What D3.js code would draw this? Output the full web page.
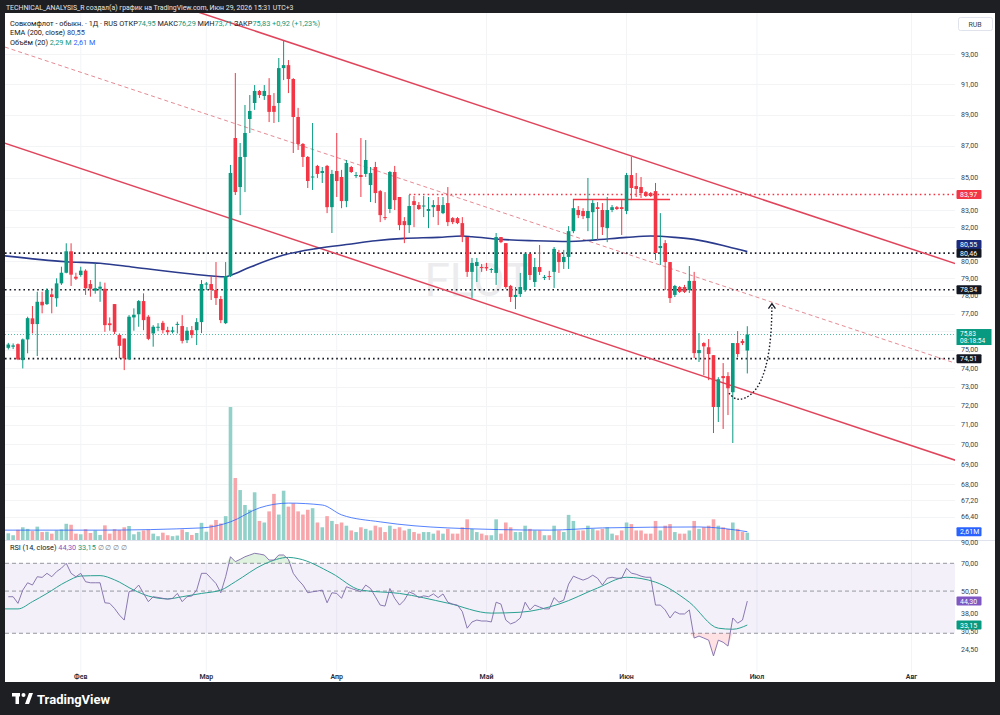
<!DOCTYPE html>
<meta charset="utf-8">
<head><title>FLOT 1D</title>
<style>
body { margin: 0; background: #1e1f22; }
svg text { font-family: Roboto, "Liberation Sans", sans-serif; }
</style>
</head>
<body>
<svg width="1000" height="715"></svg>
<script src="https://d3js.org/d3.v7.min.js"></script>
<script>

// daily candles, bar index 0..153 (last bar = Jun 29)
var opens = [75.10,75.16,75.30,74.43,75.56,76.73,76.41,77.66,77.53,78.08,77.86,78.71,79.32,80.57,79.09,79.19,79.44,78.67,78.29,78.40,
  78.40,76.45,77.53,75.81,75.61,74.47,76.78,76.96,77.70,76.82,75.89,76.23,76.48,76.07,75.98,76.39,76.30,75.52,76.07,76.07,
  76.52,78.64,78.67,78.33,77.82,76.46,79.13,87.50,84.43,86.30,88.72,89.76,90.55,90.22,90.28,89.57,89.76,92.07,92.27,91.34,
  88.85,87.12,86.30,85.02,85.74,85.30,85.74,83.20,85.42,85.05,83.57,85.67,85.11,85.17,85.24,84.55,85.67,84.18,82.60,83.09,
  85.36,83.82,82.36,82.12,83.57,83.33,83.24,82.97,83.20,83.33,82.84,83.45,82.54,82.54,82.24,81.41,79.37,79.71,79.65,79.65,
  79.51,79.31,81.41,81.05,78.56,77.93,78.10,78.33,80.41,78.79,79.65,79.02,79.13,79.37,80.47,79.94,80.24,81.76,83.03,82.97,
  82.54,82.90,83.20,83.03,81.94,83.03,83.20,83.20,82.97,85.17,84.49,84.43,84.12,84.06,84.18,80.76,81.05,79.94,78.05,78.50,
  78.50,78.33,78.85,74.81,75.36,75.13,74.70,71.93,73.57,73.57,72.71,75.36,75.47,74.95];
var highs = [75.37,75.34,75.34,75.61,76.82,77.42,78.23,78.23,78.43,78.43,79.00,79.67,81.04,81.04,79.32,79.67,79.52,78.90,79.87,78.80,
  78.75,76.78,77.53,75.89,75.61,76.91,77.29,77.76,78.14,76.91,76.35,76.46,76.59,76.26,76.26,76.54,76.91,76.24,76.30,76.74,
  78.90,78.79,79.13,79.94,77.99,79.94,85.80,91.74,87.18,89.63,90.28,90.94,90.61,90.94,91.40,90.41,92.75,93.90,92.61,91.40,
  89.44,87.18,86.36,88.46,85.80,85.67,85.80,85.49,87.82,85.49,86.11,85.74,85.36,87.50,87.37,85.67,85.99,84.25,84.12,85.42,
  85.74,83.82,82.60,83.94,83.88,83.51,83.88,83.82,83.63,83.82,83.82,84.43,82.60,82.60,82.60,81.41,80.18,80.18,79.83,79.89,
  79.60,81.65,81.41,81.05,78.62,78.50,79.31,80.47,80.47,80.18,80.94,79.19,79.43,80.82,80.65,80.65,82.06,83.69,83.27,83.14,
  84.99,83.63,83.51,83.45,83.82,83.33,83.27,83.63,85.30,86.30,85.30,85.05,84.18,84.12,84.68,82.84,81.23,79.94,78.62,78.56,
  78.62,79.71,79.37,75.91,75.41,75.58,74.70,73.51,74.27,73.78,75.36,76.02,75.58,76.29];
var lows = [75.01,75.03,74.43,73.98,74.80,75.89,74.65,77.01,77.48,77.01,77.38,78.62,79.29,78.56,78.90,79.09,78.05,77.95,78.12,77.66,
  75.98,76.04,75.85,74.52,73.89,74.43,76.04,76.26,76.07,75.52,75.16,76.02,75.89,75.80,75.89,75.89,75.34,75.36,75.63,75.25,
  75.91,78.33,77.76,77.48,76.46,76.41,79.07,83.94,82.72,84.12,87.82,89.31,90.09,89.96,88.52,88.46,88.52,91.27,90.41,86.55,
  86.74,85.67,84.37,84.25,84.99,84.68,82.84,81.65,83.82,83.14,83.20,85.30,84.99,83.82,85.05,83.51,83.45,82.30,82.42,82.84,
  83.03,81.82,81.05,81.65,82.00,83.03,82.60,81.94,82.60,82.12,82.78,82.06,82.18,82.18,81.11,79.08,77.87,78.79,79.37,79.43,
  79.31,78.62,81.05,78.40,77.65,77.25,77.93,78.22,78.90,78.50,79.19,78.90,78.90,78.45,79.31,79.54,79.54,81.64,82.54,82.48,
  81.76,81.23,81.23,81.53,81.11,82.90,83.03,81.53,82.78,83.63,83.82,83.76,83.82,83.82,80.06,79.77,78.33,77.59,77.93,78.16,
  78.16,78.16,74.54,74.33,73.62,73.35,70.58,71.15,70.79,71.51,70.07,74.60,75.25,73.71];
var closes = [75.28,75.23,74.47,75.56,76.74,76.41,77.66,77.46,78.33,77.93,78.71,79.32,80.57,79.21,78.98,79.44,78.43,78.40,78.43,78.52,
  76.35,76.35,75.98,75.21,74.52,76.82,76.93,77.70,76.63,75.59,76.26,76.26,76.07,75.96,76.06,76.42,75.48,76.04,75.80,76.52,
  78.67,78.70,78.33,77.87,76.63,79.13,85.30,84.12,86.30,87.82,89.24,90.55,90.28,90.55,89.18,89.18,92.07,92.27,91.34,88.85,
  87.12,86.30,84.80,85.08,85.24,85.42,83.20,85.24,84.80,83.57,85.92,85.36,85.17,85.05,86.11,85.30,84.06,82.72,82.54,85.36,
  83.63,82.12,82.12,83.27,83.33,83.09,83.30,83.09,83.33,82.97,83.33,82.30,82.30,82.24,81.41,79.37,79.89,79.94,79.60,79.57,
  79.54,81.41,81.11,78.50,77.93,78.05,78.50,80.41,79.19,79.65,79.37,79.08,79.08,80.71,79.94,80.24,81.76,83.14,82.72,82.66,
  82.97,83.45,83.09,82.00,83.03,83.20,83.09,83.09,85.17,84.37,84.31,84.06,83.88,83.88,80.47,80.88,79.94,77.87,78.56,78.22,
  78.22,78.85,74.81,74.98,75.18,74.76,71.93,73.40,73.46,72.92,75.36,74.76,75.36,75.83];

// volume, millions
var volumes = [2.1,1.5,3.2,4.0,3.5,2.8,4.2,2.5,2.6,2.0,3.0,3.3,5.1,4.8,2.0,1.8,3.4,2.2,3.0,1.6,
  4.6,2.0,3.4,3.1,4.0,4.4,1.8,2.6,3.0,3.2,2.0,1.2,2.3,1.5,1.2,1.4,3.3,2.5,1.6,2.2,
  5.4,2.6,4.8,6.3,5.2,7.5,41.8,19.5,15.7,11.0,9.5,15.0,6.0,5.5,9.0,14.5,8.0,15.5,10.5,11.5,
  9.0,8.0,9.5,10.0,5.5,4.0,7.5,6.0,5.0,5.5,4.5,3.0,2.5,4.0,3.5,3.0,4.5,4.0,2.5,4.5,
  3.5,4.0,3.0,3.5,2.5,2.0,2.5,2.5,2.0,3.0,2.0,3.5,2.0,2.0,4.0,6.5,3.5,2.5,2.0,1.5,
  1.5,6.5,2.0,5.5,4.0,2.5,2.5,4.5,3.5,3.0,3.0,1.5,1.5,4.5,3.0,2.5,7.9,6.0,3.0,3.0,
  4.5,3.5,3.0,3.5,4.0,2.0,1.5,3.0,5.5,5.0,3.0,3.0,2.0,2.0,6.0,3.0,4.5,5.0,2.5,2.0,
  2.0,3.0,6.0,3.5,4.0,4.5,6.5,4.5,4.0,3.5,5.5,3.5,2.5,2.29];

// RSI(14) per bar
var rsi = [46.7,46.7,43.1,50.6,55.3,53.8,59.5,59.0,62.0,59.5,63.3,66.0,70.0,62.0,59.5,62.0,56.0,55.3,55.3,55.3,
  43.4,43.1,40.5,37.4,35.2,49.6,50.6,53.8,48.6,44.0,46.7,46.3,45.8,45.3,45.8,48.6,44.0,46.7,47.1,50.6,
  62.0,62.0,58.3,54.8,49.0,59.5,75.8,71.4,73.4,75.8,77.4,79.0,78.3,77.4,72.8,72.8,77.4,77.4,73.4,62.0,
  57.3,53.8,49.0,49.6,50.0,50.6,43.4,49.0,48.6,45.8,52.7,51.6,50.6,49.6,53.8,51.6,46.7,42.2,41.7,51.6,
  45.8,42.2,44.8,49.5,48.3,46.2,47.2,46.7,48.3,46.2,48.3,43.7,42.7,42.2,39.0,31.9,34.4,35.2,34.8,34.8,
  34.4,43.7,42.7,35.2,33.6,34.4,36.1,43.7,39.8,42.2,41.2,40.3,40.3,46.2,43.7,44.8,54.4,59.9,58.4,57.1,
  58.4,60.6,58.4,53.8,58.4,59.1,58.4,58.4,65.9,62.1,61.3,59.9,59.1,59.1,42.2,42.2,39.8,36.1,39.0,37.9,
  37.9,39.8,28.3,29.0,28.3,27.6,22.8,27.6,26.9,25.7,36.1,33.9,35.2,44.30];

// smooth lines read at selected bars
var emaIdx = [-0.7,12,19,26,38,45,46,50,57,64,71,76,82,89,94,96,102,109,116,121,128,133,138,142,149,153];
var emaVal = [80.30,79.96,79.87,79.64,79.25,79.09,79.17,79.64,80.35,80.74,81.00,81.19,81.33,81.39,81.47,81.43,81.27,81.19,81.15,81.23,81.39,81.47,81.39,81.27,80.84,80.55];
var volMaIdx = [-0.7,19,40,46,52,58,65,69,77,91,112,123,143,153];
var volMaVal = [3.1,3.1,3.8,5.7,10.1,11.6,11.0,7.9,5.7,3.8,3.1,3.8,4.1,2.61];
var rsiMaIdx = [-0.7,2,5,8,12,15,19,22,26,29,33,36,40,44,47,53,58,60,67,73,81,91,100,106,114,122,128,134,141,147,150,153];
var rsiMaVal = [40.3,40.3,44.0,48.6,56.0,60.0,60.3,57.3,50.6,47.1,45.5,46.7,48.6,50.6,56.0,69.4,75.2,74.1,62.0,50.6,48.6,43.2,38.3,38.7,42.7,51.9,59.1,55.7,43.7,31.9,31.5,33.15];

// axis ticks (76,00 sits under the last-price badge)
var priceTicks = [93,91,89,87,85,83,82,80,79,78,77,75,74,73,72,71,70,69,68,67.2,66.4];
var gridTicks = [93,91,89,87,85,83,82,80,79,78,77,76,75,74,73,72,71,70,69,68,67.2,66.4];
var rsiTicks = [90,70,50,38,30.5,24.5];
var monthLabels = ["Фев","Мар","Апр","Май","Июн","Июл","Авг"];
var monthIdx = [15,41,68,99,128,155,187];

// drawings: [bar index, price]
var upperChannel = [[57,93.94],[196,79.86]];
var lowerChannel = [[-0.68,87.17],[196,69.2]];
var midChannel = [[-0.68,93.49],[196,74.27]];
var blackLevels = [80.46,78.34,74.51];
var redLevel = 83.97, redLevelFrom = 83;
var redSegment = [[116.9,83.67],[137,83.67]];
var arrowPts = [[149.2,72.66],[150.5,72.3],[152.5,72.35],[155,72.8],[157,74.0],[158,75.8],[158.1,77.5]];

var svg = d3.select("svg");
var plotL = 5, plotR = 955, priceT = 13, priceB = 540, rsiT = 541, rsiB = 672;

var x = d3.scaleLinear().domain([0, 153]).range([8.3, 747.3]);
var y = d3.scaleLog().domain([65.29, 95.84]).range([priceB, priceT]);
var yVol = d3.scaleLinear().domain([0, 42]).range([priceB, priceB - 133.6]);
var yRsi = d3.scaleLog().domain([18.1, 91.7]).range([675, 541]);
var fmt = function(v) { return d3.format(".2f")(v).replace(".", ","); };

var green = "#089981", red = "#f23645";

//frame
svg.append("rect").attr("width", 1000).attr("height", 715).attr("fill", "#1e1f22");
svg.append("rect").attr("x", 5).attr("y", 13).attr("width", 990).attr("height", 669).attr("fill", "#ffffff");

svg.append("text").attr("x", 6).attr("y", 10).attr("fill", "#e6e6e6").style("font-size", "6.9px")
  .text("TECHNICAL_ANALYSIS_R создал(а) график на TradingView.com, Июн 29, 2026 15:31 UTC+3");

var defs = svg.append("defs");
defs.append("clipPath").attr("id", "pclip").append("rect")
  .attr("x", plotL).attr("y", priceT).attr("width", plotR - plotL).attr("height", priceB - priceT);
defs.append("clipPath").attr("id", "rclip").append("rect")
  .attr("x", plotL).attr("y", rsiT).attr("width", plotR - plotL).attr("height", rsiB - rsiT);

//grid
var grid = svg.append("g");
grid.selectAll("line.h").data(gridTicks).enter().append("line")
  .attr("x1", plotL).attr("x2", plotR).attr("y1", function(d) { return Math.round(y(d)) + 0.5; })
  .attr("y2", function(d) { return Math.round(y(d)) + 0.5; }).attr("stroke", "#f3f4f6");
grid.selectAll("line.v").data(monthIdx).enter().append("line")
  .attr("x1", function(d) { return x(d); }).attr("x2", function(d) { return x(d); })
  .attr("y1", priceT).attr("y2", rsiB).attr("stroke", "#f3f4f6");

svg.append("text").attr("x", 478).attr("y", 296).attr("text-anchor", "middle")
  .attr("fill", "#ececee").style("font-size", "46px").text("FLOT");

var pane = svg.append("g").attr("clip-path", "url(#pclip)");

//volume
pane.append("g").selectAll("rect").data(volumes).enter().append("rect")
  .attr("x", function(d, i) { return x(i) - 1.8; })
  .attr("width", 3.6)
  .attr("y", function(d) { return yVol(d); })
  .attr("height", function(d) { return priceB - yVol(d); })
  .attr("fill", function(d, i) { return closes[i] >= opens[i] ? "#92d1c9" : "#f7a7ab"; });

pane.append("path").datum(volMaIdx)
  .attr("d", d3.line().x(function(d) { return x(d); }).y(function(d, k) { return yVol(volMaVal[k]); }).curve(d3.curveMonotoneX))
  .attr("fill", "none").attr("stroke", "#2962ff").attr("stroke-width", 0.8);

//levels
blackLevels.forEach(function(v) {
  pane.append("line").attr("x1", plotL).attr("x2", plotR).attr("y1", y(v)).attr("y2", y(v))
    .attr("stroke", "#131722").attr("stroke-width", 1.6).attr("stroke-dasharray", "1.6 3");
});
pane.append("line").attr("x1", x(redLevelFrom)).attr("x2", plotR).attr("y1", y(redLevel)).attr("y2", y(redLevel))
  .attr("stroke", red).attr("stroke-width", 1.6).attr("stroke-dasharray", "1.6 3");
pane.append("line").attr("x1", plotL).attr("x2", plotR).attr("y1", y(closes[153])).attr("y2", y(closes[153]))
  .attr("stroke", green).attr("stroke-width", 0.7).attr("stroke-dasharray", "1 2");

//channel lines, extended across the pane
function extLine(pts) {
  var x1 = x(pts[0][0]), y1 = y(pts[0][1]), x2 = x(pts[1][0]), y2 = y(pts[1][1]);
  var k = (y2 - y1) / (x2 - x1);
  return [[plotL - 20, y1 + k * (plotL - 20 - x1)], [plotR + 20, y1 + k * (plotR + 20 - x1)]];
}
[upperChannel, lowerChannel].forEach(function(c) {
  var e = extLine(c);
  pane.append("line").attr("x1", e[0][0]).attr("y1", e[0][1]).attr("x2", e[1][0]).attr("y2", e[1][1])
    .attr("stroke", "#e0455c").attr("stroke-width", 1.5);
});
var m = extLine(midChannel);
pane.append("line").attr("x1", m[0][0]).attr("y1", m[0][1]).attr("x2", m[1][0]).attr("y2", m[1][1])
  .attr("stroke", "#e58b95").attr("stroke-width", 1).attr("stroke-dasharray", "4 3");

pane.append("line").attr("x1", x(redSegment[0][0])).attr("x2", x(redSegment[1][0]))
  .attr("y1", y(redSegment[0][1])).attr("y2", y(redSegment[1][1]))
  .attr("stroke", red).attr("stroke-width", 1.5);

//ema 200
pane.append("path").datum(emaIdx)
  .attr("d", d3.line().x(function(d) { return x(d); }).y(function(d, k) { return y(emaVal[k]); }).curve(d3.curveMonotoneX))
  .attr("fill", "none").attr("stroke", "#2a3a8c").attr("stroke-width", 1.6);

//candles
var candles = pane.append("g").selectAll("g").data(closes).enter().append("g");
candles.append("line")
  .attr("x1", function(d, i) { return x(i); }).attr("x2", function(d, i) { return x(i); })
  .attr("y1", function(d, i) { return y(highs[i]); }).attr("y2", function(d, i) { return y(lows[i]); })
  .attr("stroke", function(d, i) { return d >= opens[i] ? green : red; }).attr("stroke-width", 1);
candles.append("rect")
  .attr("x", function(d, i) { return x(i) - 1.8; }).attr("width", 3.6)
  .attr("y", function(d, i) { return y(Math.max(d, opens[i])); })
  .attr("height", function(d, i) { return Math.max(1, Math.abs(y(d) - y(opens[i]))); })
  .attr("fill", function(d, i) { return d >= opens[i] ? green : red; });

//arrow
pane.append("path").datum(arrowPts)
  .attr("d", d3.line().x(function(d) { return x(d[0]); }).y(function(d) { return y(d[1]); }).curve(d3.curveBasis))
  .attr("fill", "none").attr("stroke", "#131722").attr("stroke-width", 1.4).attr("stroke-dasharray", "1.5 2");
var tip = arrowPts[arrowPts.length - 1];
pane.append("path")
  .attr("d", "M" + (x(tip[0]) - 3.5) + "," + (y(tip[1]) + 4) + "L" + x(tip[0]) + "," + (y(tip[1]) - 1) + "L" + (x(tip[0]) + 3.5) + "," + (y(tip[1]) + 4))
  .attr("fill", "none").attr("stroke", "#131722").attr("stroke-width", 1.3);

//pane separator
svg.append("line").attr("x1", 5).attr("x2", 995).attr("y1", 540.5).attr("y2", 540.5).attr("stroke", "#e0e3eb");

//rsi pane
var rp = svg.append("g").attr("clip-path", "url(#rclip)");
rp.append("rect").attr("x", plotL).attr("width", plotR - plotL)
  .attr("y", yRsi(70)).attr("height", yRsi(30) - yRsi(70)).attr("fill", "#7e57c2").attr("fill-opacity", 0.09);
[70, 50, 30].forEach(function(v) {
  rp.append("line").attr("x1", plotL).attr("x2", plotR).attr("y1", yRsi(v)).attr("y2", yRsi(v))
    .attr("stroke", "#9598a1").attr("stroke-dasharray", "4 3");
});
rp.append("path").datum(rsi)
  .attr("d", d3.area().x(function(d, i) { return x(i); }).y0(yRsi(70)).y1(function(d) { return Math.min(yRsi(d), yRsi(70)); }))
  .attr("fill", "#4caf50").attr("fill-opacity", 0.18);
rp.append("path").datum(rsi)
  .attr("d", d3.area().x(function(d, i) { return x(i); }).y0(yRsi(30)).y1(function(d) { return Math.max(yRsi(d), yRsi(30)); }))
  .attr("fill", "#f23645").attr("fill-opacity", 0.15);
rp.append("path").datum(rsiMaIdx)
  .attr("d", d3.line().x(function(d) { return x(d); }).y(function(d, k) { return yRsi(rsiMaVal[k]); }).curve(d3.curveMonotoneX))
  .attr("fill", "none").attr("stroke", "#2aa192").attr("stroke-width", 1);
rp.append("path").datum(rsi)
  .attr("d", d3.line().x(function(d, i) { return x(i); }).y(function(d) { return yRsi(d); }))
  .attr("fill", "none").attr("stroke", "#7e6ba8").attr("stroke-width", 0.9);

//price axis
var ax = svg.append("g").style("font-size", "7px").attr("fill", "#3b3f4a");
ax.selectAll("text.p").data(priceTicks).enter().append("text")
  .attr("x", 961).attr("y", function(d) { return y(d) + 2.5; }).text(fmt);
ax.selectAll("text.r").data(rsiTicks).enter().append("text")
  .attr("x", 961).attr("y", function(d) { return yRsi(d) + 2.5; }).text(fmt);

var rub = svg.append("g");
rub.append("rect").attr("x", 958.5).attr("y", 17.5).attr("width", 34).attr("height", 13).attr("rx", 2)
  .attr("fill", "#fff").attr("stroke", "#e0e3eb");
rub.append("text").attr("x", 975).attr("y", 26.5).attr("text-anchor", "middle").style("font-size", "7px")
  .attr("fill", "#3b3f4a").text("RUB");

//value badges
function badge(yc, txt, col, w) {
  svg.append("rect").attr("x", 956.5).attr("y", yc - 4.5).attr("width", w || 25).attr("height", 9)
    .attr("fill", col).attr("rx", 1);
  svg.append("text").attr("x", 960).attr("y", yc + 2.5).style("font-size", "7px").attr("fill", "#fff").text(txt);
}
badge(y(redLevel), fmt(redLevel), red);
badge(y(emaVal[emaVal.length - 1]) - 7, fmt(emaVal[emaVal.length - 1]), "#1d2b7e");
badge(y(80.46), fmt(80.46), "#131722");
badge(y(78.34), fmt(78.34), "#131722");
badge(y(74.51), fmt(74.51), "#131722");
svg.append("rect").attr("x", 956.5).attr("y", y(closes[153]) - 5.5).attr("width", 35).attr("height", 16).attr("fill", green);
svg.append("text").attr("x", 960).attr("y", y(closes[153]) + 1.5).style("font-size", "6.5px").attr("fill", "#fff").text(fmt(closes[153]));
svg.append("text").attr("x", 960).attr("y", y(closes[153]) + 8.5).style("font-size", "6.5px").attr("fill", "#fff").text("08:18:54");
badge(yVol(volMaVal[volMaVal.length - 1]), "2,61M", "#2962ff");
badge(yRsi(rsi[153]), fmt(rsi[153]), "#7e57c2");
badge(yRsi(rsiMaVal[rsiMaVal.length - 1]), fmt(rsiMaVal[rsiMaVal.length - 1]), "#089981");

//time axis
svg.append("g").selectAll("text").data(monthLabels).enter().append("text")
  .attr("x", function(d, i) { return x(monthIdx[i]); }).attr("y", 678.5)
  .attr("text-anchor", "middle").style("font-size", "7px").style("font-weight", "600").attr("fill", "#2a2e39")
  .text(function(d) { return d; });

//legends
var lg = svg.append("g").style("font-size", "7.3px").attr("fill", "#131722");
var l1 = lg.append("text").attr("x", 10).attr("y", 26);
l1.append("tspan").text("Совкомфлот - обыкн. · 1Д · RUS ");
[["ОТКР", opens[153]], ["МАКС", highs[153]], ["МИН", lows[153]], ["ЗАКР", closes[153]]].forEach(function(p) {
  l1.append("tspan").text(" " + p[0]);
  l1.append("tspan").attr("fill", green).text(fmt(p[1]));
});
l1.append("tspan").attr("fill", green).text(" +0,92 (+1,23%)");
var l2 = lg.append("text").attr("x", 10).attr("y", 35);
l2.append("tspan").text("EMA (200, close) ");
l2.append("tspan").attr("fill", "#2a3a8c").text(fmt(emaVal[emaVal.length - 1]));
var l3 = lg.append("text").attr("x", 10).attr("y", 44.5);
l3.append("tspan").text("Объём (20) ");
l3.append("tspan").attr("fill", green).text("2,29 M ");
l3.append("tspan").attr("fill", "#2962ff").text("2,61 M");
var l4 = lg.append("text").attr("x", 10).attr("y", 550);
l4.append("tspan").text("RSI (14, close) ");
l4.append("tspan").attr("fill", "#7e57c2").text(fmt(rsi[153]) + " ");
l4.append("tspan").attr("fill", "#089981").text(fmt(rsiMaVal[rsiMaVal.length - 1]) + " ");
l4.append("tspan").attr("fill", "#787b86").text("∅ ∅ ∅ ∅");

//footer logo
var logo = svg.append("g").attr("fill", "#ffffff");
logo.append("rect").attr("x", 12).attr("y", 693).attr("width", 8).attr("height", 3.5);
logo.append("rect").attr("x", 15.5).attr("y", 693).attr("width", 3.5).attr("height", 11);
logo.append("circle").attr("cx", 23.5).attr("cy", 695).attr("r", 2);
logo.append("path").attr("d", "M25,704 L29,693 L33,693 L29,704 Z");
logo.append("text").attr("x", 37).attr("y", 703.5).style("font-size", "13px").style("font-weight", "700").text("TradingView");

</script>
</body>
